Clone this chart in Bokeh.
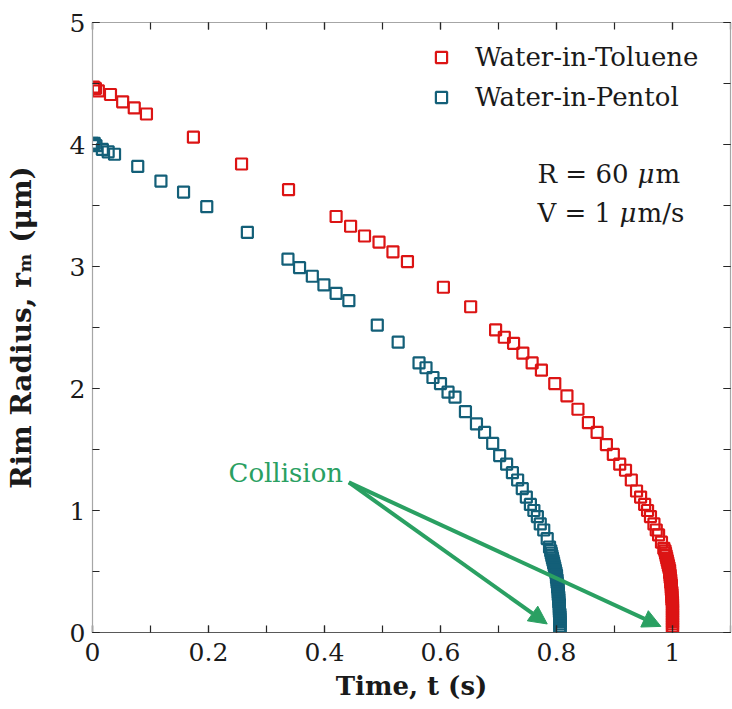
from bokeh.plotting import figure
from bokeh.models import (Range1d, LinearAxis, SingleIntervalTicker, CustomJSTickFormatter,
                          Label, Arrow, NormalHead, Legend, LegendItem)
from bokeh.embed import file_html
from bokeh.resources import INLINE

# ---------------- data ----------------
series_names = ["Water-in-Toluene", "Water-in-Pentol"]

toluene_t = [0.002, 0.005, 0.010, 0.031, 0.052, 0.072, 0.093, 0.174, 0.257, 0.338,
             0.420, 0.445, 0.469, 0.494, 0.518, 0.543, 0.605, 0.652, 0.695, 0.710,
             0.726, 0.742, 0.758, 0.774, 0.797, 0.818, 0.837, 0.855, 0.870, 0.886,
             0.898, 0.909, 0.919, 0.929, 0.938, 0.945, 0.952, 0.957, 0.962, 0.968,
             0.972, 0.976, 0.981, 0.985,
             0.987, 0.988, 0.989, 0.990, 0.991, 0.992, 0.993, 0.994, 0.995, 0.995,
             0.996, 0.996, 0.997, 0.997, 0.998, 0.998, 0.998, 0.999, 0.999, 0.999,
             0.999, 1.000, 1.000, 1.000, 1.000, 1.000, 1.000, 1.000, 1.000, 1.000,
             1.000, 1.000, 1.000, 1.000]
toluene_r = [4.47, 4.46, 4.44, 4.41, 4.35, 4.30, 4.25, 4.06, 3.84, 3.63,
             3.41, 3.33, 3.25, 3.20, 3.12, 3.04, 2.83, 2.67, 2.48, 2.42,
             2.37, 2.29, 2.21, 2.15, 2.04, 1.94, 1.83, 1.72, 1.64, 1.54,
             1.46, 1.38, 1.33, 1.25, 1.16, 1.11, 1.05, 1.00, 0.95, 0.89,
             0.84, 0.80, 0.74, 0.69,
             0.67, 0.65, 0.63, 0.61, 0.59, 0.57, 0.55, 0.53, 0.51, 0.49,
             0.47, 0.45, 0.43, 0.41, 0.39, 0.37, 0.35, 0.33, 0.31, 0.29,
             0.27, 0.25, 0.23, 0.21, 0.19, 0.17, 0.15, 0.13, 0.11, 0.09,
             0.07, 0.05, 0.03, 0.01]

pentol_t = [0.000, 0.003, 0.006, 0.017, 0.027, 0.038, 0.078, 0.118, 0.157, 0.197,
            0.267, 0.337, 0.357, 0.379, 0.399, 0.420, 0.442, 0.491, 0.527, 0.563,
            0.575, 0.587, 0.600, 0.613, 0.625, 0.643, 0.662, 0.676, 0.690, 0.702,
            0.714, 0.724, 0.733, 0.741, 0.748, 0.755, 0.761, 0.767, 0.772, 0.778,
            0.784, 0.788,
            0.790, 0.791, 0.792, 0.793, 0.794, 0.795, 0.796, 0.797, 0.798, 0.799,
            0.800, 0.800, 0.801, 0.801, 0.802, 0.802, 0.803, 0.803, 0.803, 0.804,
            0.804, 0.804, 0.805, 0.805, 0.805, 0.805, 0.806, 0.806, 0.806, 0.806,
            0.806, 0.806, 0.806, 0.806]
pentol_r = [4.01, 4.01, 3.99, 3.96, 3.94, 3.92, 3.82, 3.70, 3.61, 3.49,
            3.28, 3.06, 2.99, 2.92, 2.85, 2.78, 2.72, 2.52, 2.38, 2.21,
            2.17, 2.09, 2.04, 1.97, 1.93, 1.81, 1.71, 1.64, 1.55, 1.45,
            1.38, 1.31, 1.25, 1.18, 1.11, 1.05, 1.00, 0.95, 0.89, 0.84,
            0.77, 0.70,
            0.67, 0.65, 0.63, 0.61, 0.59, 0.57, 0.55, 0.53, 0.51, 0.49,
            0.47, 0.45, 0.43, 0.41, 0.39, 0.37, 0.35, 0.33, 0.31, 0.29,
            0.27, 0.25, 0.23, 0.21, 0.19, 0.17, 0.15, 0.13, 0.11, 0.09,
            0.07, 0.05, 0.03, 0.01]

# collision arrows: common tail, two heads (data units)
arrow_tail = (0.442, 1.23)
arrow_heads_t = [0.784, 0.980]
arrow_heads_r = [0.07, 0.05]

x_range = (0, 1.1)
y_range = (0, 5)
x_title = "Time, t (s)"
y_title = "Rim Radius, r\u2098 (\u03bcm)"

# ---------------- style ----------------
RED = "#dc1414"
TEAL = "#135f78"
GREEN = "#2aa062"
FONT = "DejaVu Serif"
TXT = "#1a1a1a"

p = figure(width=732, height=709, output_backend="svg", toolbar_location=None,
           x_range=Range1d(*x_range), y_range=Range1d(*y_range),
           min_border_left=92, min_border_right=2, min_border_top=22, min_border_bottom=77,
           x_axis_location=None, y_axis_location=None)
p.grid.visible = False
p.outline_line_color = None
p.background_fill_color = "white"
p.border_fill_color = "white"

fmt = CustomJSTickFormatter(code="return String(Number(tick.toFixed(1)));")
blank = CustomJSTickFormatter(code="return '';")

def style_axis(ax, line_color, show_labels):
    ax.axis_line_color = line_color
    ax.axis_line_width = 1.2
    ax.major_tick_in = 7
    ax.major_tick_out = 0
    ax.minor_tick_in = 7
    ax.minor_tick_out = 0
    ax.major_tick_line_color = "#262626"
    ax.minor_tick_line_color = "#262626"
    ax.major_tick_line_width = 1.2
    ax.minor_tick_line_width = 1.2
    if show_labels:
        ax.formatter = fmt
        ax.major_label_text_font = FONT
        ax.major_label_text_font_size = "25px"
        ax.major_label_text_color = TXT
        ax.axis_label_text_font = FONT
        ax.axis_label_text_font_style = "bold"
        ax.axis_label_text_color = TXT
    else:
        ax.formatter = blank
        ax.major_label_standoff = 0

xb = LinearAxis(ticker=SingleIntervalTicker(interval=0.2, num_minor_ticks=2))
style_axis(xb, "#595959", True)
xb.major_label_standoff = 10
xb.axis_label = x_title
xb.axis_label_text_font_size = "26px"
xb.axis_label_standoff = 7

xt = LinearAxis(ticker=SingleIntervalTicker(interval=0.2, num_minor_ticks=2))
style_axis(xt, "#a6a6a6", False)

yl = LinearAxis(ticker=SingleIntervalTicker(interval=1, num_minor_ticks=2))
style_axis(yl, "#a6a6a6", True)
yl.major_label_standoff = 7
yl.axis_label = y_title
yl.axis_label_text_font_size = "28px"
yl.axis_label_standoff = 29

yr = LinearAxis(ticker=SingleIntervalTicker(interval=1, num_minor_ticks=2))
style_axis(yr, "#a6a6a6", False)
p.add_layout(xb, "below")
p.add_layout(xt, "above")
p.add_layout(yl, "left")
p.add_layout(yr, "right")

r_tol = p.scatter(toluene_t, toluene_r, marker="square", size=11, fill_color=None,
                  line_color=RED, line_width=2.2)
r_pen = p.scatter(pentol_t, pentol_r, marker="square", size=11, fill_color=None,
                  line_color=TEAL, line_width=2.2)

legend = Legend(items=[LegendItem(label=series_names[0], renderers=[r_tol]),
                       LegendItem(label=series_names[1], renderers=[r_pen])],
                location=(335, 520), orientation="vertical")
legend.background_fill_alpha = 0
legend.border_line_color = None
legend.padding = 0
legend.margin = 0
legend.spacing = 10
legend.glyph_width = 28
legend.glyph_height = 28
legend.label_standoff = 20
legend.label_text_font = FONT
legend.label_text_font_size = "26px"
legend.label_text_color = TXT
p.add_layout(legend)

# collision arrows
for xe, ye in zip(arrow_heads_t, arrow_heads_r):
    p.add_layout(Arrow(end=NormalHead(size=18, fill_color=GREEN, line_color=GREEN, line_width=1),
                       x_start=arrow_tail[0], y_start=arrow_tail[1], x_end=xe, y_end=ye,
                       line_color=GREEN, line_width=4))

def lab(text, x, y, size="26px", color=TXT, style="normal", align="left",
        baseline="alphabetic"):
    p.add_layout(Label(text=text, x=x, y=y, x_units="canvas", y_units="canvas",
                       text_font=FONT, text_font_size=size, text_color=color,
                       text_font_style=style, text_align=align, text_baseline=baseline))

lab("Collision", 228, 472, color=GREEN)
lab("R = 60", 537, 173)
lab("\u03bc", 637, 173, style="italic")
lab("m", 655, 173)
lab("V = 1", 537, 212)
lab("\u03bc", 619, 212, style="italic")
lab("m/s", 637, 212)

open("out.html", "w").write(file_html(p, INLINE))
